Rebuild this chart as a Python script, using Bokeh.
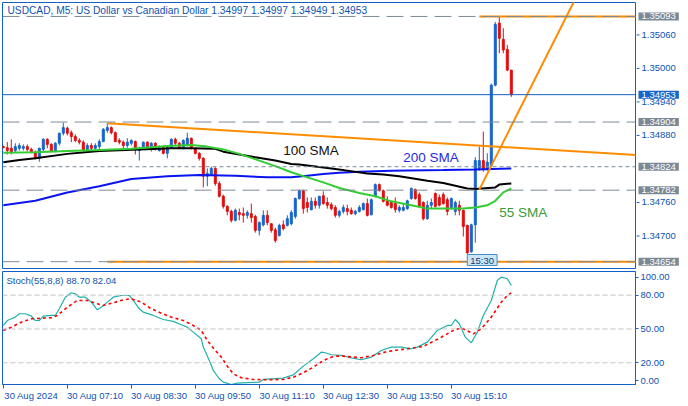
from bokeh.plotting import figure
from bokeh.layouts import column, row
from bokeh.models import (ColumnDataSource, Range1d, LinearAxis, FixedTicker,
                          Span, Label)
from bokeh.core.properties import value
from bokeh.embed import file_html
from bokeh.resources import INLINE

# ---------------- data (USDCAD M5, 30 Aug 2024, bars from 05:50) ----------------
opens = [1.34860,1.34858,1.34857,1.34853,1.34857,1.34857,1.34860,1.34855,1.34850,1.34839,
         1.34855,1.34873,1.34864,1.34851,1.34866,1.34884,1.34893,1.34885,1.34878,1.34871,
         1.34868,1.34855,1.34862,1.34857,1.34860,1.34869,1.34889,1.34894,1.34885,1.34871,
         1.34868,1.34862,1.34866,1.34869,1.34853,1.34857,1.34868,1.34858,1.34866,1.34853,
         1.34858,1.34848,1.34858,1.34873,1.34866,1.34858,1.34862,1.34875,1.34857,1.34848,
         1.34839,1.34807,1.34810,1.34821,1.34794,1.34771,1.34753,1.34744,1.34728,1.34742,
         1.34740,1.34737,1.34740,1.34735,1.34710,1.34720,1.34737,1.34722,1.34711,1.34701,
         1.34720,1.34719,1.34722,1.34735,1.34767,1.34781,1.34760,1.34747,1.34762,1.34755,
         1.34772,1.34760,1.34756,1.34751,1.34737,1.34744,1.34749,1.34746,1.34740,1.34744,
         1.34747,1.34758,1.34738,1.34771,1.34792,1.34781,1.34763,1.34760,1.34758,1.34746,
         1.34746,1.34749,1.34767,1.34783,1.34774,1.34760,1.34731,1.34755,1.34776,1.34769,
         1.34774,1.34765,1.34749,1.34744,1.34755,1.34746,1.34719,1.34672,1.34720,1.34821,
         1.34835,1.34821,1.34826,1.34970,1.35081,1.35052,1.35034,1.34997]
highs = [1.34862,1.34868,1.34873,1.34866,1.34866,1.34864,1.34864,1.34858,1.34853,1.34858,
         1.34875,1.34875,1.34866,1.34868,1.34885,1.34903,1.34896,1.34889,1.34882,1.34875,
         1.34871,1.34866,1.34866,1.34866,1.34873,1.34893,1.34902,1.34896,1.34887,1.34875,
         1.34871,1.34875,1.34873,1.34871,1.34860,1.34869,1.34869,1.34868,1.34868,1.34862,
         1.34862,1.34860,1.34875,1.34876,1.34868,1.34873,1.34885,1.34876,1.34858,1.34850,
         1.34841,1.34821,1.34824,1.34823,1.34798,1.34774,1.34755,1.34747,1.34749,1.34749,
         1.34751,1.34746,1.34758,1.34738,1.34726,1.34746,1.34746,1.34722,1.34715,1.34722,
         1.34728,1.34737,1.34746,1.34769,1.34783,1.34783,1.34769,1.34769,1.34769,1.34772,
         1.34780,1.34769,1.34760,1.34755,1.34747,1.34756,1.34756,1.34751,1.34747,1.34755,
         1.34760,1.34767,1.34767,1.34794,1.34794,1.34783,1.34771,1.34763,1.34769,1.34755,
         1.34758,1.34765,1.34787,1.34785,1.34778,1.34762,1.34763,1.34767,1.34778,1.34774,
         1.34778,1.34769,1.34769,1.34763,1.34763,1.34747,1.34720,1.34722,1.34841,1.34860,
         1.34887,1.34848,1.34973,1.35083,1.35093,1.35072,1.35042,1.34997]
lows = [1.34857,1.34846,1.34846,1.34850,1.34853,1.34853,1.34851,1.34848,1.34837,1.34833,
        1.34851,1.34857,1.34850,1.34850,1.34862,1.34880,1.34880,1.34868,1.34868,1.34864,
        1.34851,1.34851,1.34853,1.34855,1.34855,1.34868,1.34885,1.34882,1.34868,1.34864,
        1.34857,1.34858,1.34862,1.34846,1.34835,1.34855,1.34857,1.34851,1.34853,1.34851,
        1.34846,1.34839,1.34857,1.34862,1.34857,1.34855,1.34860,1.34855,1.34846,1.34835,
        1.34787,1.34789,1.34807,1.34790,1.34769,1.34749,1.34737,1.34724,1.34726,1.34728,
        1.34724,1.34731,1.34724,1.34706,1.34701,1.34717,1.34719,1.34706,1.34688,1.34699,
        1.34710,1.34717,1.34719,1.34731,1.34765,1.34740,1.34742,1.34746,1.34749,1.34749,
        1.34756,1.34749,1.34746,1.34733,1.34733,1.34740,1.34737,1.34738,1.34737,1.34742,
        1.34746,1.34735,1.34737,1.34769,1.34780,1.34760,1.34753,1.34749,1.34742,1.34742,
        1.34744,1.34747,1.34765,1.34765,1.34751,1.34728,1.34729,1.34749,1.34751,1.34753,
        1.34756,1.34737,1.34747,1.34737,1.34737,1.34699,1.34668,1.34670,1.34688,1.34817,
        1.34815,1.34817,1.34824,1.34968,1.35027,1.35027,1.34995,1.34949]
closes = [1.34858,1.34853,1.34850,1.34860,1.34862,1.34860,1.34855,1.34850,1.34839,1.34857,
          1.34873,1.34864,1.34851,1.34866,1.34884,1.34894,1.34884,1.34878,1.34871,1.34868,
          1.34853,1.34862,1.34857,1.34862,1.34869,1.34891,1.34894,1.34885,1.34869,1.34868,
          1.34862,1.34868,1.34871,1.34857,1.34857,1.34868,1.34858,1.34866,1.34857,1.34858,
          1.34848,1.34858,1.34873,1.34866,1.34858,1.34871,1.34875,1.34857,1.34848,1.34839,
          1.34807,1.34812,1.34821,1.34794,1.34771,1.34753,1.34744,1.34728,1.34746,1.34738,
          1.34737,1.34742,1.34733,1.34710,1.34724,1.34737,1.34724,1.34710,1.34692,1.34719,
          1.34713,1.34731,1.34742,1.34767,1.34781,1.34749,1.34751,1.34762,1.34755,1.34771,
          1.34758,1.34755,1.34749,1.34737,1.34744,1.34751,1.34744,1.34740,1.34744,1.34751,
          1.34758,1.34737,1.34765,1.34792,1.34781,1.34762,1.34755,1.34751,1.34747,1.34751,
          1.34751,1.34763,1.34785,1.34767,1.34753,1.34731,1.34755,1.34760,1.34753,1.34755,
          1.34758,1.34744,1.34767,1.34760,1.34746,1.34717,1.34670,1.34720,1.34835,1.34835,
          1.34821,1.34832,1.34970,1.35079,1.35054,1.35033,1.34997,1.34953]

sma55_idx = [0, 8, 16, 24, 32, 41, 47, 51, 55, 59, 64, 68, 72, 76, 80, 84, 89, 93, 97,
             102, 106, 111, 115, 118, 121, 123, 125, 127]
sma55 = [1.34849, 1.34850, 1.34852, 1.34854, 1.34856, 1.34861, 1.34863, 1.34860, 1.34855,
         1.34847, 1.34835, 1.34825, 1.34814, 1.34805, 1.34796, 1.34786, 1.34777, 1.34771,
         1.34762, 1.34755, 1.34749, 1.34749, 1.34749, 1.34751, 1.34755, 1.34763, 1.34778, 1.34785]
sma100_idx = [0, 4, 8, 16, 24, 34, 42, 47, 53, 55, 63, 68, 72, 74, 83, 86, 91, 95, 99,
              106, 110, 116, 118, 123, 124, 127]
sma100 = [1.34832, 1.34836, 1.34839, 1.34847, 1.34852, 1.34855, 1.34857, 1.34857, 1.34856,
          1.34851, 1.34841, 1.34835, 1.34829, 1.34828, 1.34820, 1.34817, 1.34812, 1.34810,
          1.34807, 1.34799, 1.34795, 1.34785, 1.34784, 1.34787, 1.34792, 1.34794]
sma200_idx = [0, 8, 16, 24, 32, 41, 49, 58, 66, 72, 76, 80, 84, 89, 97, 110, 118, 127]
sma200 = [1.34755, 1.34763, 1.34778, 1.34789, 1.34802, 1.34807, 1.34809, 1.34808, 1.34805,
          1.34805, 1.34808, 1.34811, 1.34813, 1.34815, 1.34817, 1.34818, 1.34819, 1.34821]

stoch_main_idx = [0, 1, 2, 3, 4, 5.5, 7, 8, 9, 10, 12, 13, 14, 15.5, 17, 18, 19, 20.5, 22, 23.5,
                  24.5, 26, 27.5, 29.5, 31.5, 32.5, 34, 35, 37.5, 40, 42.5, 44.5, 46, 47.5, 49.5,
                  50, 51.5, 52.5, 54, 55, 57, 58.5, 61, 64, 65, 70, 72.5, 75, 77.5, 79.5, 80.5,
                  82, 84.5, 87, 89.5, 92, 94.5, 97, 99.5, 102, 103.5, 106, 108.5, 111, 112, 113,
                  114, 115.5, 117, 118.5, 120, 122, 123.5, 124.5, 126, 127]
stoch_main = [53.1, 57.5, 59.0, 60.5, 63.5, 63.5, 61.4, 57.5, 57.5, 61.4, 62.0, 62.0, 67.9, 78.2,
              82.1, 81.2, 78.2, 78.2, 73.8, 67.0, 69.3, 73.8, 78.2, 79.7, 79.7, 75.3, 67.9, 64.9,
              62.0, 58.4, 56.7, 53.7, 51.6, 47.2, 41.3, 33.9, 22.0, 13.2, 5.8, 2.8, 0.7, 1.9,
              2.3, 2.8, 5.2, 6.3, 9.3, 17.0, 23.6, 29.4, 28.9, 27.1, 26.5, 24.4, 22.7, 25.0,
              30.9, 33.9, 33.9, 32.4, 33.9, 38.3, 48.7, 53.1, 53.1, 58.4, 54.6, 42.7, 37.7,
              47.2, 62.0, 75.3, 93.0, 96.0, 94.6, 88.70]
stoch_sig_idx = [0, 2, 4.5, 7, 10, 12, 13.5, 16, 18.5, 21, 23.5, 25, 27.5, 30, 32, 34.5, 37,
                 39.5, 42, 45, 47.5, 49.5, 51, 52.5, 54.5, 56, 57.5, 59.5, 62.5, 66, 70, 72.5,
                 75, 77.5, 80, 82.5, 84.5, 89.5, 92.5, 96, 101, 105, 109.5, 112.5, 114.5,
                 117.5, 119.5, 122, 124.5, 126, 127]
stoch_sig = [48.7, 51.6, 56.0, 59.0, 59.6, 59.9, 62.0, 69.3, 75.3, 75.3, 72.4, 70.9, 73.2, 75.9,
             76.8, 73.8, 67.9, 64.0, 60.5, 57.5, 53.1, 48.7, 39.8, 33.0, 25.0, 17.0, 10.2, 6.7,
             5.2, 4.9, 5.2, 7.2, 11.1, 16.1, 22.0, 25.6, 26.0, 24.4, 26.5, 30.0, 32.4, 34.5,
             42.7, 48.7, 51.0, 45.7, 50.2, 60.5, 73.8, 79.7, 82.04]

time_tick_bars = [0, 16, 32, 48, 64, 80, 96, 112]
time_labels = ["30 Aug 2024", "30 Aug 07:10", "30 Aug 08:30", "30 Aug 09:50",
               "30 Aug 11:10", "30 Aug 12:30", "30 Aug 13:50", "30 Aug 15:10"]
price_ticks = [1.34700, 1.34760, 1.34880, 1.34940, 1.35000, 1.35060]
level_lines = [1.35093, 1.34904, 1.34782, 1.34654]
dotted_level = 1.34824
boxed_levels = [1.35093, 1.34904, 1.34824, 1.34782, 1.34654]
bid_price = 1.34953
stoch_ticks = [4, 20, 50, 80, 96]
stoch_tick_labels = ["0.00", "20.00", "50.00", "80.00", "100.00"]
stoch_levels = [20, 50, 80]
trend_down_x = [26, 160]; trend_down_y = [1.34902, 1.34844]
trend_up_x = [119, 145]; trend_up_y = [1.34783, 1.35153]
hl_high_x = [119, 160]; hl_high_y = [1.35093, 1.35093]
hl_low_x = [26, 160]; hl_low_y = [1.34654, 1.34654]

title_text = "USDCAD, M5:  US Dollar vs Canadian Dollar  1.34997 1.34997 1.34949 1.34953"
stoch_text = "Stoch(55,8,8) 88.70 82.04"

# ---------------- styling ----------------
FRAME = "#1360c4"
AXTXT = "#0f52b0"
BULL = "#1866c9"
BEAR = "#e01010"
ORANGE = "#ff8c00"
GRAYLN = "#7d8a97"
BOXGRAY = "#7b8896"
FONT = "Liberation Sans"

xr = Range1d(-0.2, 158.05)
yr = Range1d(1.34640, 1.35118)

# ---------------- main price panel ----------------
p1 = figure(width=636, height=269, x_range=xr, y_range=yr,
            output_backend="svg", toolbar_location=None,
            x_axis_location=None, y_axis_location=None,
            min_border_left=2, min_border_right=1, min_border_top=2, min_border_bottom=0,
            background_fill_color="white", border_fill_color="white",
            outline_line_color=FRAME, outline_line_width=1)
p1.xgrid.visible = False
p1.ygrid.visible = False

for lv in level_lines:
    p1.add_layout(Span(location=lv, dimension="width", line_color=GRAYLN,
                       line_width=1, line_dash="17 7"))
p1.add_layout(Span(location=dotted_level, dimension="width", line_color=GRAYLN,
                   line_width=1, line_dash="4 3"))
p1.add_layout(Span(location=bid_price, dimension="width", line_color=FRAME, line_width=1))

n = len(opens)
colors = [BULL if c >= o else BEAR for o, c in zip(opens, closes)]
src = ColumnDataSource(dict(
    x=list(range(n)), o=opens, h=highs, l=lows, c=closes,
    top=[max(o, c) for o, c in zip(opens, closes)],
    bottom=[min(o, c) for o, c in zip(opens, closes)],
    color=colors))
p1.segment(x0="x", y0="l", x1="x", y1="h", line_color="color", line_width=1, source=src)
p1.vbar(x="x", width=0.5, top="top", bottom="bottom", fill_color="color",
        line_color="color", line_width=1, source=src)

p1.line(sma200_idx, sma200, line_color="#0a14f0", line_width=2)
p1.line(sma100_idx, sma100, line_color="#000000", line_width=2)
p1.line(sma55_idx, sma55, line_color="#32cd32", line_width=2)

p1.line(trend_down_x, trend_down_y, line_color=ORANGE, line_width=2)
p1.line(trend_up_x, trend_up_y, line_color=ORANGE, line_width=2)
p1.line(hl_high_x, hl_high_y, line_color=ORANGE, line_width=2)
p1.line(hl_low_x, hl_low_y, line_color=ORANGE, line_width=2)

p1.add_layout(Label(x=70, y=1.34853, text="100 SMA", text_font=FONT, text_font_size="13.5px",
                    text_color="#111111", text_baseline="middle", text_align="left"))
p1.add_layout(Label(x=100, y=1.34841, text="200 SMA", text_font=FONT, text_font_size="13.5px",
                    text_color="#2a2ae6", text_baseline="middle", text_align="left"))
p1.add_layout(Label(x=124, y=1.34742, text="55 SMA", text_font=FONT, text_font_size="13.5px",
                    text_color="#3a9a3a", text_baseline="middle", text_align="left"))

p1.add_layout(Label(x=5, x_units="screen", y=259.5, y_units="screen", text=title_text,
                    text_font=FONT, text_font_size="10.2px", text_color=AXTXT,
                    text_baseline="middle", text_align="left"))

p1.add_layout(Label(x=116, y=9.5, y_units="screen", text="15:30", text_font=FONT,
                    text_font_size="9.5px", text_color="#1a3a6a", text_baseline="middle",
                    text_align="left", background_fill_color="#c8e6f5",
                    border_line_color="#4a8ec4", padding=(3, 0)))

# ---------------- price scale strip (right of main panel) ----------------
p1r = figure(width=52, height=269, x_range=Range1d(1, 53), y_range=yr,
             output_backend="svg", toolbar_location=None,
             x_axis_location=None, y_axis_location=None,
             min_border_left=0, min_border_right=0, min_border_top=2, min_border_bottom=0,
             background_fill_color="white", border_fill_color="white",
             outline_line_color=None)
p1r.xgrid.visible = False
p1r.ygrid.visible = False
p1r.segment(x0=1, y0=price_ticks, x1=4, y1=price_ticks, line_color=FRAME, line_width=1)
p1r.text(x=6, y=price_ticks, text=[f"{t:.5f}" for t in price_ticks],
         text_font=value(FONT), text_font_size=value("9.5px"), text_color=AXTXT,
         text_align="left", text_baseline="middle")
for lv in boxed_levels:
    p1r.add_layout(Label(x=3, y=lv, text=f"{lv:.5f}", text_font=FONT,
                         text_font_size="9.5px", text_color="white", text_baseline="middle",
                         text_align="left", background_fill_color=BOXGRAY, padding=(3, 1)))
p1r.add_layout(Label(x=3, y=bid_price, text=f"{bid_price:.5f}", text_font=FONT,
                     text_font_size="9.5px", text_color="white", text_baseline="middle",
                     text_align="left", background_fill_color="#1466c8", padding=(3, 1)))

# ---------------- stochastic panel ----------------
p2 = figure(width=688, height=137, x_range=xr, y_range=Range1d(0.7, 101),
            output_backend="svg", toolbar_location=None,
            x_axis_location=None, y_axis_location=None,
            min_border_left=2, min_border_right=53, min_border_top=2, min_border_bottom=22,
            background_fill_color="white", border_fill_color="white",
            outline_line_color=FRAME, outline_line_width=1)
p2.xgrid.visible = False
p2.ygrid.visible = False

ay2 = LinearAxis(ticker=FixedTicker(ticks=stoch_ticks),
                 major_label_overrides={t: s for t, s in zip(stoch_ticks, stoch_tick_labels)})
ay2.axis_line_color = FRAME
ay2.major_tick_line_color = FRAME
ay2.major_tick_out = 3
ay2.major_tick_in = 0
ay2.minor_tick_line_color = None
ay2.major_label_standoff = 2
ay2.major_label_text_font = FONT
ay2.major_label_text_font_size = "9.5px"
ay2.major_label_text_color = AXTXT
p2.add_layout(ay2, "right")

label_pos = [b + 7 for b in time_tick_bars]
ax = LinearAxis(ticker=FixedTicker(ticks=label_pos, minor_ticks=time_tick_bars),
                major_label_overrides={t: s for t, s in zip(label_pos, time_labels)})
ax.axis_line_color = FRAME
ax.major_tick_line_color = None
ax.major_tick_out = 3
ax.major_tick_in = 0
ax.minor_tick_line_color = FRAME
ax.minor_tick_out = 4
ax.minor_tick_in = 0
ax.major_label_standoff = 1
ax.major_label_text_font = FONT
ax.major_label_text_font_size = "9.5px"
ax.major_label_text_color = AXTXT
p2.add_layout(ax, "below")

for lv in stoch_levels:
    p2.add_layout(Span(location=lv, dimension="width", line_color="#c4c4c4",
                       line_width=1, line_dash="5 3"))

p2.line(stoch_main_idx, stoch_main, line_color="#20b2aa", line_width=1.2)
p2.line(stoch_sig_idx, stoch_sig, line_color="#ff0000", line_width=1.6, line_dash="3 3")

p2.add_layout(Label(x=4, x_units="screen", y=104, y_units="screen", text=stoch_text,
                    text_font=FONT, text_font_size="9.5px", text_color=AXTXT,
                    text_baseline="middle", text_align="left"))

layout = column(row(p1, p1r, spacing=0), p2, spacing=0)
open("out.html", "w").write(file_html(layout, INLINE))
